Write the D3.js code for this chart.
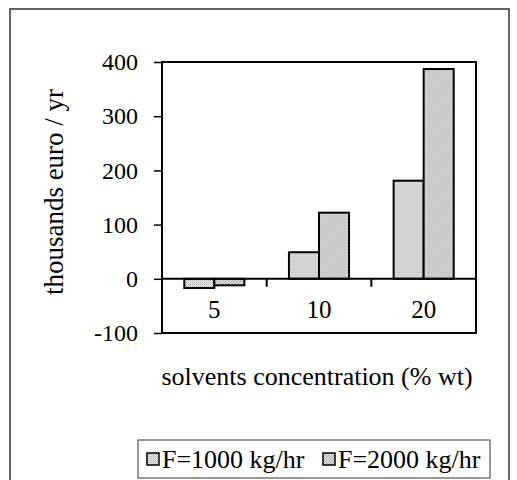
<!DOCTYPE html>
<html>
<head>
<meta charset="utf-8">
<script src="https://cdn.jsdelivr.net/npm/d3@7"></script>
<style>
  html, body { margin: 0; padding: 0; background: #fff; }
  svg { display: block; }
  svg text { font-family: "Liberation Serif", "Times New Roman", serif; fill: #000; }
</style>
</head>
<body>
<svg id="chart" width="517" height="480"></svg>
<script>
// Data
const categories = ["5", "10", "20"];
const seriesNames = ["F=1000 kg/hr", "F=2000 kg/hr"];
const f1000 = [-17, 49, 181];
const f2000 = [-12, 122, 387];
const yTicks = [-100, 0, 100, 200, 300, 400];

const width = 517, height = 480;
const svg = d3.select("#chart");
const plot = { left: 162, right: 476, top: 62, bottom: 333 };

// fill patterns
const defs = svg.append("defs");
const p1 = defs.append("pattern").attr("id", "pat1")
  .attr("width", 2).attr("height", 2).attr("patternUnits", "userSpaceOnUse");
p1.append("rect").attr("width", 2).attr("height", 2).attr("fill", "#e8e8e8");
p1.append("rect").attr("width", 1).attr("height", 1).attr("fill", "#b0b0b0");
p1.append("rect").attr("x", 1).attr("y", 1).attr("width", 1).attr("height", 1).attr("fill", "#cccccc");

const p2 = defs.append("pattern").attr("id", "pat2")
  .attr("width", 3).attr("height", 3).attr("patternUnits", "userSpaceOnUse");
p2.append("rect").attr("width", 3).attr("height", 3).attr("fill", "#dcdcdc");
p2.append("path").attr("d", "M0,3 L3,0 M-1,1 L1,-1 M2,4 L4,2")
  .attr("stroke", "#a8a8a8").attr("stroke-width", 1);

const fills = ["url(#pat1)", "url(#pat2)"];

// outer frame
svg.append("rect")
  .attr("x", 10).attr("y", 9).attr("width", 499).attr("height", 500)
  .attr("fill", "none").attr("stroke", "#333").attr("stroke-width", 1.5);

const x = d3.scaleBand()
  .domain(categories)
  .range([plot.left, plot.right])
  .padding(0);

const xs = d3.scaleBand()
  .domain(seriesNames)
  .range([x.bandwidth() * 0.213, x.bandwidth() * 0.787]);

const y = d3.scaleLinear()
  .domain([-100, 400])
  .range([plot.bottom, plot.top]);

// y axis
const yAxis = svg.append("g")
  .attr("transform", `translate(${plot.left},0)`)
  .call(d3.axisLeft(y).tickValues(yTicks).tickFormat(d => String(d))
    .tickSize(8).tickSizeOuter(0).tickPadding(16));
yAxis.attr("font-family", null);
yAxis.select(".domain").remove();
yAxis.selectAll("line").attr("stroke", "#000").attr("stroke-width", 1.5);
yAxis.selectAll("text").attr("font-size", 24);

// bars
const rows = categories.map((c, i) => ({ cat: c, vals: [f1000[i], f2000[i]] }));
const groups = svg.selectAll(".grp")
  .data(rows)
  .enter().append("g")
  .attr("transform", d => `translate(${x(d.cat)},0)`);

groups.selectAll("rect")
  .data(d => d.vals.map((v, j) => ({ v, name: seriesNames[j], j })))
  .enter().append("rect")
  .attr("x", d => xs(d.name))
  .attr("y", d => y(Math.max(0, d.v)))
  .attr("width", xs.bandwidth())
  .attr("height", d => Math.abs(y(d.v) - y(0)))
  .attr("fill", d => fills[d.j])
  .attr("stroke", "#000")
  .attr("stroke-width", 2);

// zero line with category ticks
svg.append("line")
  .attr("x1", plot.left).attr("x2", plot.right)
  .attr("y1", y(0)).attr("y2", y(0))
  .attr("stroke", "#000").attr("stroke-width", 2);

svg.selectAll(".cattick")
  .data(categories.slice(1))
  .enter().append("line")
  .attr("x1", d => x(d)).attr("x2", d => x(d))
  .attr("y1", y(0)).attr("y2", y(0) + 8)
  .attr("stroke", "#000").attr("stroke-width", 2);

svg.selectAll(".catlabel")
  .data(categories)
  .enter().append("text")
  .attr("x", d => x(d) + x.bandwidth() / 2)
  .attr("y", 318)
  .attr("text-anchor", "middle")
  .attr("font-size", 25)
  .text(d => d);

// plot frame
svg.append("rect")
  .attr("x", plot.left).attr("y", plot.top)
  .attr("width", plot.right - plot.left).attr("height", plot.bottom - plot.top)
  .attr("fill", "none").attr("stroke", "#000").attr("stroke-width", 2);

// axis titles
svg.append("text")
  .attr("transform", "translate(63,192) rotate(-90)")
  .attr("text-anchor", "middle")
  .attr("font-size", 27)
  .text("thousands euro / yr");

svg.append("text")
  .attr("x", 317).attr("y", 385)
  .attr("text-anchor", "middle")
  .attr("font-size", 26)
  .text("solvents concentration (% wt)");

// legend
const legend = svg.append("g").attr("transform", "translate(138,440)");
legend.append("rect")
  .attr("width", 352).attr("height", 38)
  .attr("fill", "#fff").attr("stroke", "#555").attr("stroke-width", 1.2);

const items = legend.selectAll(".item")
  .data(seriesNames)
  .enter().append("g")
  .attr("transform", (d, i) => `translate(${9 + i * 176},0)`);
items.append("rect")
  .attr("x", 0).attr("y", 13).attr("width", 12).attr("height", 12)
  .attr("fill", (d, i) => fills[i]).attr("stroke", "#000").attr("stroke-width", 1.5);
items.append("text")
  .attr("x", 15).attr("y", 28)
  .attr("font-size", 26)
  .text(d => d);
</script>
</body>
</html>
